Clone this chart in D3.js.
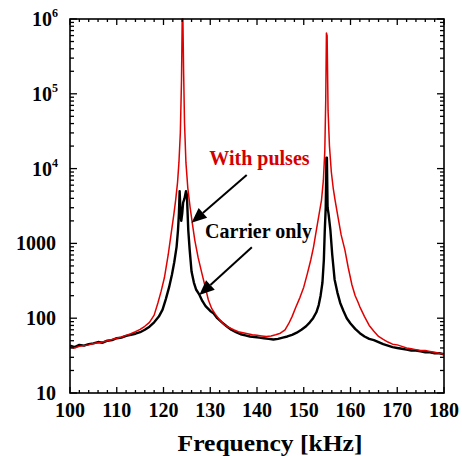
<!DOCTYPE html>
<html>
<head>
<meta charset="utf-8">
<script src="https://cdn.jsdelivr.net/npm/d3@7"></script>
<style>
  html, body { margin: 0; padding: 0; background: #fff; }
  svg text { font-family: "Liberation Serif", "Times New Roman", serif; font-weight: bold; }
</style>
</head>
<body>
<svg id="chart" width="462" height="456"></svg>
<script>
// ---------- data ----------
const redFreq = [100,101,102,103,104,105,106,107,108,109,110,111,112,113,114,115,116,117,118,118.8,119.5,120.2,121,121.6,122.2,122.6,123,123.3,123.6,123.85,124.0,124.15,124.3,124.5,124.8,125.2,125.7,126.2,126.7,127.4,128.2,129,129.6,130.3,131,132,133,134,135,136,137,138,139,140,141,142,143,144,145,146,146.8,147.5,148.3,149.2,150,150.8,151.5,152.1,152.7,153.3,153.8,154.2,154.5,154.7,154.85,155.0,155.2,155.5,155.9,156.3,156.7,157.3,158,158.8,159.5,160.3,161,161.5,162,163,164,165,166,167,168,169,170,171,172,173,174,175,176,177,178,179,180];
const redVal  = [41,40,42,43,44,46,47,48,50,52,54,56,59,62,66,71,78,88,110,160,230,350,700,1300,2400,3800,6500,12000,30000,150000,1000000,1000000,200000,40000,12000,5500,3000,1800,1100,650,400,250,175,135,115,95,82,75,70,66,64,62,60,59,58,57,58,60,63,70,85,105,140,190,260,400,600,900,1500,2500,3800,7000,17000,80000,650000,600000,60000,20000,9000,5500,3800,2300,1300,820,480,280,200,170,142,105,80,67,57,52,48,45,44,42,40,39,38,37,37,36,35,34,33];

const blackFreq = [100,101,102,103,104,105,106,107,108,109,110,111,112,113,114,115,116,117,118,119,119.8,120.5,121.2,121.8,122.3,122.8,123.1,123.3,123.45,123.6,123.8,124.0,124.2,124.5,124.8,125.0,125.3,125.6,126.0,126.5,127,127.6,128.3,129,130,130.7,131.5,132.5,133.5,134.5,135.5,136.5,137.5,138.5,139.5,140.5,141.5,142.5,143.5,144.5,145.5,146.5,147.5,148.5,149.5,150.5,151.3,152,152.7,153.2,153.6,154,154.3,154.5,154.7,154.85,154.95,155.1,155.3,155.7,156.1,156.6,157.2,157.8,158.5,159.2,160,161,162,163,164,165,166,167,168,169,170,171,172,173,174,175,176,177,178,179,180];
const blackVal  = [43,41,44,43,45,46,48,47,50,51,54,55,58,60,62,65,70,77,88,105,130,180,260,380,560,900,1500,2500,5000,3000,2000,2500,3500,4000,5000,4500,1500,820,420,300,240,210,170,145,125,116,100,88,78,70,65,61,59,57,56,55,54,53,52,53,55,57,60,64,70,78,88,100,120,150,200,300,600,1500,3000,14000,14000,3000,2500,1500,700,330,220,160,125,100,85,72,63,57,53,51,48,45,43,41,40,39,38,37,37,36,35,35,34,34,33];

const xTicks = [100,110,120,130,140,150,160,170,180];
const yTickValues = [10,100,1000,1e4,1e5,1e6];
const yTickBase = ["10","100","1000","10","10","10"];
const yTickSup  = ["","","","4","5","6"];

const annotations = [
  {label: "With pulses",  color: "#d40000", tx: 129.8, ty: 11200, x1: 137.8, y1: 8200, x2: 126.0, y2: 1890},
  {label: "Carrier only", color: "#000000", tx: 128.9, ty: 1180,  x1: 138.9, y1: 887,  x2: 127.66, y2: 204}
];
const xTitle = "Frequency [kHz]";

// ---------- layout ----------
const svg = d3.select("#chart");
const L = 70, R = 444, T = 19, B = 393;
const x = d3.scaleLinear().domain([100,180]).range([L,R]);
const y = d3.scaleLog().domain([10,1e6]).range([B,T]);

svg.append("clipPath").attr("id","clip").append("rect")
  .attr("x",L).attr("y",T-1).attr("width",R-L).attr("height",B-T+1);

const line = d3.line().x(d => x(d[0])).y(d => y(d[1]));

const blackData = blackFreq.map((f,i)=>[f, blackVal[i]]);
const redData = redFreq.map((f,i)=>[f, redVal[i]]);

const g = svg.append("g").attr("clip-path","url(#clip)");
g.append("path").datum(blackData).attr("d",line)
  .attr("fill","none").attr("stroke","#000").attr("stroke-width",2.4).attr("stroke-linejoin","round");
g.append("path").datum(redData).attr("d",line)
  .attr("fill","none").attr("stroke","#e00000").attr("stroke-width",1.5).attr("stroke-linejoin","round");

// frame
svg.append("rect").attr("x",L).attr("y",T).attr("width",R-L).attr("height",B-T)
  .attr("fill","none").attr("stroke","#000").attr("stroke-width",1.6);

// y ticks (major + minor), inward on left and right
const yMinor = [];
for (let e = 1; e < 6; e++) for (let k = 2; k <= 9; k++) yMinor.push(k * Math.pow(10,e));
const tk = svg.append("g").attr("stroke","#000").attr("stroke-width",1.3);
yTickValues.forEach(v => {
  tk.append("line").attr("x1",L).attr("x2",L+7).attr("y1",y(v)).attr("y2",y(v));
  tk.append("line").attr("x1",R).attr("x2",R-7).attr("y1",y(v)).attr("y2",y(v));
});
yMinor.forEach(v => {
  tk.append("line").attr("x1",L).attr("x2",L+4).attr("y1",y(v)).attr("y2",y(v));
  tk.append("line").attr("x1",R).attr("x2",R-4).attr("y1",y(v)).attr("y2",y(v));
});
// x ticks
d3.range(100,181,2).forEach(f => {
  const major = f % 10 === 0;
  const len = major ? 6 : 3;
  tk.append("line").attr("x1",x(f)).attr("x2",x(f)).attr("y1",B).attr("y2",B-len);
  tk.append("line").attr("x1",x(f)).attr("x2",x(f)).attr("y1",T).attr("y2",T+len);
});

// y labels
yTickValues.forEach((v,i) => {
  const t = svg.append("text").attr("x", yTickSup[i] ? 58 : 56).attr("y", y(v) + 7)
    .attr("text-anchor","end").attr("font-size",20).attr("fill","#000");
  t.append("tspan").text(yTickBase[i]);
  if (yTickSup[i]) t.append("tspan").attr("font-size",12).attr("dy",-9).text(yTickSup[i]);
});
// x labels
xTicks.forEach(f => {
  svg.append("text").attr("x",x(f)).attr("y",417).attr("text-anchor","middle")
    .attr("font-size",20).attr("fill","#000").text(f);
});
svg.append("text").attr("x",270).attr("y",451).attr("text-anchor","middle")
  .attr("font-size",24).attr("fill","#000")
  .attr("textLength",185).attr("lengthAdjust","spacingAndGlyphs").text(xTitle);

// annotations
annotations.forEach(a => {
  svg.append("text").attr("x",x(a.tx)).attr("y",y(a.ty)).attr("font-size",20)
    .attr("fill",a.color).text(a.label);
  const px1 = x(a.x1), py1 = y(a.y1), px2 = x(a.x2), py2 = y(a.y2);
  const ang = Math.atan2(py2-py1, px2-px1);
  const hl = 15, hw = 6.5;
  const bx = px2 - hl*Math.cos(ang), by = py2 - hl*Math.sin(ang);
  svg.append("line").attr("x1",px1).attr("y1",py1).attr("x2",bx).attr("y2",by)
    .attr("stroke","#000").attr("stroke-width",2);
  const p = [[px2,py2],[bx + hw*Math.sin(ang), by - hw*Math.cos(ang)],[bx - hw*Math.sin(ang), by + hw*Math.cos(ang)]];
  svg.append("path").attr("d","M"+p.map(q=>q.join(",")).join("L")+"Z").attr("fill","#000");
});
</script>
</body>
</html>
